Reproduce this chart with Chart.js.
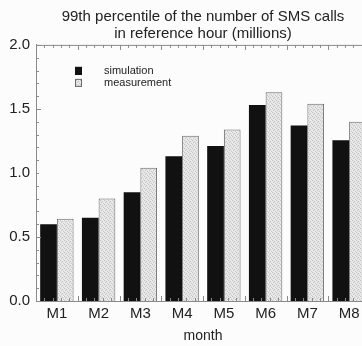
<!DOCTYPE html>
<html>
<head>
<meta charset="utf-8">
<script src="https://cdn.jsdelivr.net/npm/chart.js@4/dist/chart.umd.min.js"></script>
<style>
  html, body { margin: 0; padding: 0; background: #fcfcfc; overflow: hidden; }
  #wrap { width: 362px; height: 346px; overflow: hidden; }
  canvas { display: block; }
</style>
</head>
<body>
<div id="wrap"><canvas id="c" width="370" height="346"></canvas></div>
<script>
// Months on the x axis
const months = ['M1', 'M2', 'M3', 'M4', 'M5', 'M6', 'M7', 'M8'];
// 99th percentile of SMS calls in the reference hour, millions
const simulation  = [0.60, 0.65, 0.85, 1.13, 1.21, 1.53, 1.37, 1.255];
const measurement = [0.643, 0.80, 1.04, 1.29, 1.34, 1.63, 1.54, 1.40];
// y axis tick values
const yTicks = [0.0, 0.5, 1.0, 1.5, 2.0];

const FONT = "'Liberation Sans', Arial, sans-serif";
const TEXT = '#222';
const AXIS = '#8a8a8a';

// light stippled grey fill for the measured bars
function stipple() {
  const p = document.createElement('canvas');
  p.width = 4; p.height = 4;
  const g = p.getContext('2d');
  g.fillStyle = '#e4e4e4';
  g.fillRect(0, 0, 4, 4);
  g.fillStyle = '#c6c6c6';
  [[0,0],[2,1],[1,2],[3,3]].forEach(([x, y]) => g.fillRect(x, y, 1, 1));
  g.fillStyle = '#f0f0f0';
  [[2,3],[0,2],[3,0]].forEach(([x, y]) => g.fillRect(x, y, 1, 1));
  return g.createPattern(p, 'repeat');
}
const measFill = stipple();

// inward minor ticks on the frame plus the top border line
const frameTicks = {
  id: 'frameTicks',
  afterDatasetsDraw(chart) {
    const { ctx, chartArea: a, scales } = chart;
    const y = scales.y, x = scales.x;
    ctx.save();
    ctx.strokeStyle = AXIS;
    ctx.lineWidth = 1;
    ctx.beginPath();
    ctx.moveTo(a.left, a.top + 0.5);
    ctx.lineTo(a.right, a.top + 0.5);
    for (let v = 0; v <= 2.0001; v += 0.1) {
      const py = Math.round(y.getPixelForValue(v)) + 0.5;
      const len = Math.abs((v * 10) % 5) < 0.01 ? 5 : 3;
      ctx.moveTo(a.left, py);
      ctx.lineTo(a.left + len, py);
    }
    const step = (x.getPixelForValue(1) - x.getPixelForValue(0));
    for (let i = 0; i <= months.length; i++) {
      const bx = x.getPixelForValue(i) - step / 2;
      for (let k = 0; k < 5; k++) {
        const px = Math.round(bx + k * step / 5) + 0.5;
        const len = k === 0 ? 5 : 3;
        ctx.moveTo(px, a.top);
        ctx.lineTo(px, a.top + len);
        ctx.moveTo(px, a.bottom);
        ctx.lineTo(px, a.bottom - len);
      }
    }
    ctx.stroke();
    ctx.restore();
  }
};

// legend drawn inside the plot area, upper left
const innerLegend = {
  id: 'innerLegend',
  afterDraw(chart) {
    const { ctx, chartArea: a } = chart;
    ctx.save();
    ctx.font = '11px ' + FONT;
    ctx.textBaseline = 'middle';
    chart.data.datasets.forEach((ds, i) => {
      const bx = a.left + 39, by = a.top + 22 + i * 12;
      ctx.fillStyle = ds.backgroundColor;
      ctx.fillRect(bx, by, 7, 8);
      ctx.strokeStyle = ds.borderColor;
      ctx.lineWidth = 1;
      ctx.strokeRect(bx + 0.5, by + 0.5, 6, 7);
      ctx.fillStyle = TEXT;
      ctx.fillText(ds.label, a.left + 68, by + 4);
    });
    ctx.restore();
  }
};

new Chart(document.getElementById('c'), {
  type: 'bar',
  data: {
    labels: months,
    datasets: [
      { label: 'simulation', data: simulation, backgroundColor: '#111111', borderColor: '#111111', borderWidth: 0 },
      { label: 'measurement', data: measurement, backgroundColor: measFill, borderColor: '#6a6a6a', borderWidth: 1 }
    ]
  },
  options: {
    responsive: false,
    animation: false,
    layout: { padding: 0 },
    datasets: { bar: { barPercentage: 1.0, categoryPercentage: 0.8 } },
    plugins: {
      legend: { display: false },
      tooltip: { enabled: false },
      title: {
        display: true,
        fullSize: false,
        text: ['99th percentile of the number of SMS calls', 'in reference hour (millions)'],
        color: TEXT,
        font: { family: FONT, size: 15, weight: 'normal', lineHeight: 1.13 },
        padding: { top: 8, bottom: 3 }
      }
    },
    scales: {
      x: {
        grid: { display: false, drawTicks: false },
        border: { display: true, color: AXIS, width: 1 },
        ticks: { color: TEXT, font: { family: FONT, size: 15 }, padding: 4, maxRotation: 0 },
        title: { display: true, text: 'month', color: TEXT, font: { family: FONT, size: 14 }, padding: { top: 7, bottom: 1 } },
        afterFit(s) { s.height = 45; }
      },
      y: {
        min: 0, max: 2.0,
        grid: { display: false, drawTicks: false },
        border: { display: true, color: AXIS, width: 1 },
        afterBuildTicks(s) { s.ticks = yTicks.map(v => ({ value: v })); },
        ticks: { color: TEXT, font: { family: FONT, size: 15 }, padding: 6, callback: v => Number(v).toFixed(1) },
        afterFit(s) { s.width = 36; }
      }
    }
  },
  plugins: [frameTicks, innerLegend]
});
</script>
</body>
</html>
